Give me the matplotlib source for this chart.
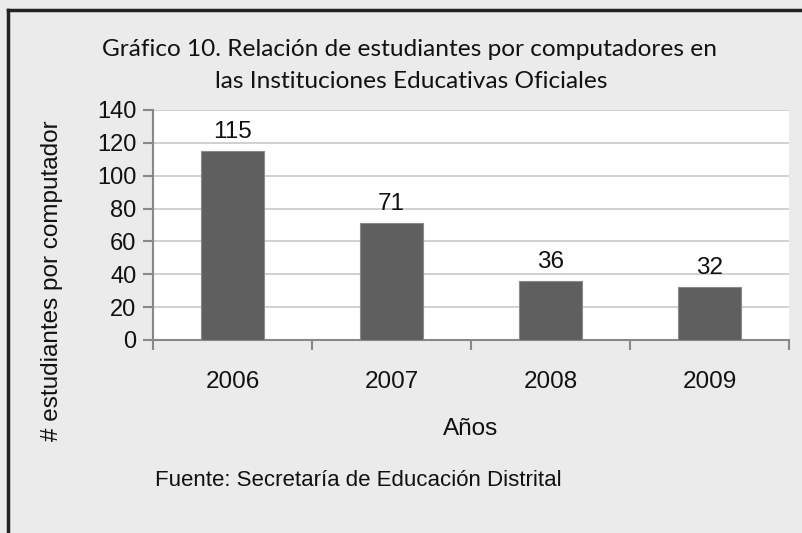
import matplotlib
matplotlib.use("Agg")
import matplotlib.pyplot as plt
import numpy as np

years = ["2006", "2007", "2008", "2009"]
values = [115, 71, 36, 32]
yticks = [0, 20, 40, 60, 80, 100, 120, 140]

W, H = 802, 533
fig = plt.figure(figsize=(W / 100, H / 100), dpi=100)
fig.patch.set_facecolor("#ebebeb")

# border (top and left)
fig.add_artist(plt.Line2D([8 / W, 8 / W], [0, 1 - 10 / H], color="#222222", lw=2.5, transform=fig.transFigure))
fig.add_artist(plt.Line2D([8 / W, 1], [1 - 10 / H, 1 - 10 / H], color="#222222", lw=2.5, transform=fig.transFigure))

left, right, top, bottom = 153, 789, 110, 340
ax = fig.add_axes([left / W, 1 - bottom / H, (right - left) / W, (bottom - top) / H])
ax.set_facecolor("white")

FS = 17.5
x = np.arange(len(years))
ax.bar(x, values, width=0.4, color="#5f5f5f", edgecolor="#8a8a8a", linewidth=0.8, zorder=3)
ax.set_xlim(-0.5, len(years) - 0.5)
ax.set_ylim(0, 140)
ax.set_yticks(yticks)
ax.set_yticklabels([str(v) for v in yticks], fontfamily="Liberation Sans", fontsize=17, color="#111111")
ax.yaxis.grid(True, color="#c8c8c8", lw=1.2, zorder=0)
ax.set_axisbelow(True)

ax.set_xticks(x)
ax.set_xticklabels(years, fontfamily="Liberation Sans", fontsize=FS, color="#111111")
ax.tick_params(axis="x", length=0, pad=22)
ax.set_xticks(np.arange(-0.5, len(years)), minor=True)
ax.tick_params(axis="x", which="minor", length=7, color="#888888", width=1.5)
ax.tick_params(axis="y", length=7, color="#888888", width=1.5, pad=5)

for s in ["top", "right"]:
    ax.spines[s].set_visible(False)
for s in ["left", "bottom"]:
    ax.spines[s].set_color("#888888")
    ax.spines[s].set_linewidth(1.5)

for xi, v in zip(x, values):
    ax.annotate(str(v), (xi, v), xytext=(0, 6), textcoords="offset points", ha="center", va="bottom",
                fontfamily="Liberation Sans", fontsize=FS, color="#111111")

fig.text(410 / W, 1 - 49 / H, "Gráfico 10. Relación de estudiantes por computadores en",
         ha="center", va="center", fontfamily="Lato", fontsize=17.6, color="#111111")
fig.text(411 / W, 1 - 82 / H, "las Instituciones Educativas Oficiales",
         ha="center", va="center", fontfamily="Lato", fontsize=17.6, color="#111111")

fig.text(471 / W, 1 - 429 / H, "Años", ha="center", va="center", fontfamily="Liberation Sans", fontsize=FS, color="#111111")
fig.text(52 / W, 1 - 281 / H, "# estudiantes por computador", ha="center", va="center", rotation=90,
         fontfamily="Liberation Sans", fontsize=FS, color="#111111")
fig.text(155 / W, 1 - 481 / H, "Fuente: Secretaría de Educación Distrital", ha="left", va="center",
         fontfamily="Liberation Sans", fontsize=16, color="#111111")

fig.savefig("out.png", dpi=100, facecolor=fig.get_facecolor())
